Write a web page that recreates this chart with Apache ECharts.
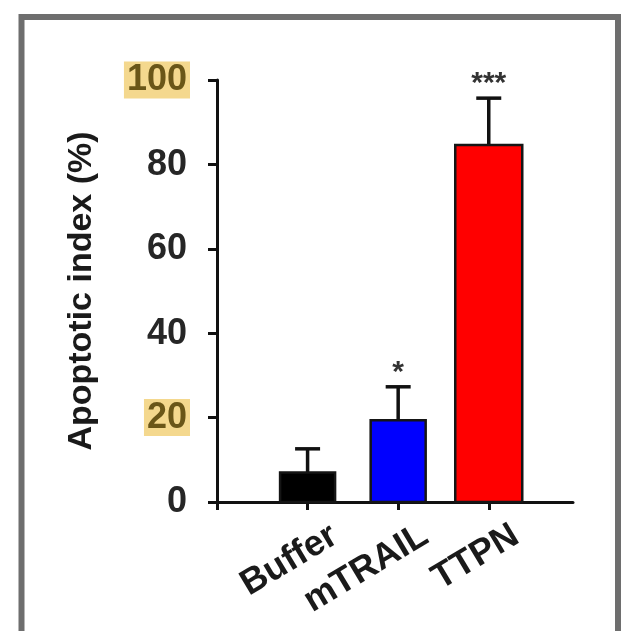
<!DOCTYPE html>
<html>
<head>
<meta charset="utf-8">
<script src="https://cdn.jsdelivr.net/npm/echarts@6/dist/echarts.min.js"></script>
<style>
html,body{margin:0;padding:0;background:#fff;}
#c{width:628px;height:631px;}
</style>
</head>
<body>
<div id="c"></div>
<script>
const categories = ['Buffer', 'mTRAIL', 'TTPN'];
const means = [7, 19.4, 84.6];
const upperErr = [12.6, 27.3, 95.7];
const significance = ['', '*', '***'];
const barColors = ['#000000', '#0000ff', '#ff0000'];
const barWidths = [55, 55, 67];
const yTicks = [0, 20, 40, 60, 80, 100];
const highlighted = [20, 100];

const FONT = "'Liberation Sans', Arial, sans-serif";
const LABEL_SHIFT = 0.3; // rotated labels sit to the right of their ticks
const chart = echarts.init(document.getElementById('c'));

const barData = categories.map((c, i) => [i, means[i]]);
const errData = categories.map((c, i) => [i, means[i], upperErr[i]]);
const tickPos = categories.map((c, i) => i);

chart.setOption({
  animation: false,
  backgroundColor: '#ffffff',
  graphic: [{
    type: 'rect',
    shape: {x: 21.5, y: 17, width: 596.5, height: 700},
    style: {fill: 'none', stroke: '#6e6e6e', lineWidth: 6},
    z: 100
  }],
  grid: {left: 217, right: 55, top: 80, bottom: 129},
  xAxis: {
    type: 'value',
    min: -1,
    max: 2.93,
    interval: 1,
    splitLine: {show: false},
    axisLine: {show: true, lineStyle: {color: '#111', width: 3}},
    axisTick: {show: true, customValues: [-1].concat(tickPos), length: 8, lineStyle: {color: '#111', width: 3}},
    axisLabel: {
      customValues: tickPos.map(p => p + LABEL_SHIFT),
      formatter: v => categories[Math.round(v - LABEL_SHIFT)] || '',
      rotate: 31,
      margin: 31,
      fontFamily: FONT,
      fontSize: 36,
      fontWeight: 'bold',
      color: '#1a1a1a'
    }
  },
  yAxis: {
    type: 'value',
    min: 0,
    max: 100,
    interval: 20,
    splitLine: {show: false},
    name: 'Apoptotic index (%)',
    nameLocation: 'middle',
    nameRotate: 90,
    nameGap: 118,
    nameTextStyle: {fontFamily: FONT, fontSize: 34, fontWeight: 'bold', color: '#1a1a1a'},
    axisLine: {show: true, onZero: false, lineStyle: {color: '#111', width: 3}},
    axisTick: {show: true, length: 9, lineStyle: {color: '#111', width: 3}},
    axisLabel: {
      margin: 27,
      formatter: v => (highlighted.indexOf(v) >= 0 ? '{hl|' + v + '}' : '{n|' + v + '}'),
      rich: {
        hl: {fontFamily: FONT, fontSize: 36, fontWeight: 'bold', color: '#6a5618',
             backgroundColor: '#f4d88e', padding: [1, 3, 0, 3], lineHeight: 30},
        n: {fontFamily: FONT, fontSize: 36, fontWeight: 'bold', color: '#262626',
            padding: [1, 3, 0, 3], lineHeight: 30}
      }
    }
  },
  series: [
    {
      type: 'custom',
      name: 'bars',
      data: barData,
      renderItem: function (params, api) {
        const i = api.value(0), v = api.value(1);
        const p0 = api.coord([i, 0]);
        const p1 = api.coord([i, v]);
        const w = barWidths[params.dataIndex];
        return {
          type: 'rect',
          shape: {x: p0[0] - w / 2, y: p1[1], width: w, height: p0[1] - p1[1]},
          style: {fill: barColors[params.dataIndex], stroke: '#151515', lineWidth: 2.5}
        };
      },
      z: 2
    },
    {
      type: 'custom',
      name: 'errors',
      data: errData,
      renderItem: function (params, api) {
        const i = api.value(0), m = api.value(1), u = api.value(2);
        const pm = api.coord([i, m]);
        const pu = api.coord([i, u]);
        const cap = 25;
        const children = [
          {type: 'line', shape: {x1: pm[0], y1: pm[1], x2: pu[0], y2: pu[1]},
           style: {stroke: '#111', lineWidth: 3.5}},
          {type: 'line', shape: {x1: pu[0] - cap / 2, y1: pu[1], x2: pu[0] + cap / 2, y2: pu[1]},
           style: {stroke: '#111', lineWidth: 3.5}}
        ];
        const s = significance[params.dataIndex];
        if (s) {
          children.push({
            type: 'text',
            style: {text: s, x: pu[0], y: pu[1] - 14, align: 'center', verticalAlign: 'middle',
                    fontFamily: FONT, fontSize: 30, fontWeight: 'bold', fill: '#333'}
          });
        }
        return {type: 'group', children: children};
      },
      z: 1
    }
  ]
});
</script>
</body>
</html>
